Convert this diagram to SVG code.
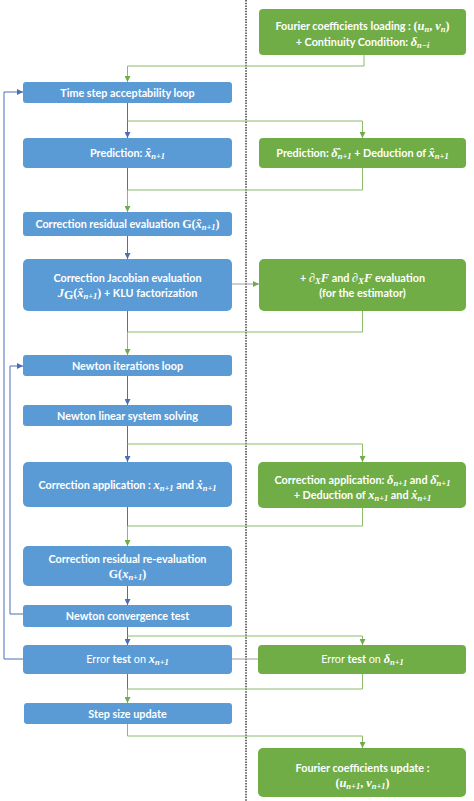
<svg xmlns="http://www.w3.org/2000/svg" width="474" height="801" viewBox="0 0 474 801">
<defs>
<style>
.bb{fill:#5B9BD5;}
.gb{fill:#70AD47;}
.t{font-family:Lato,"Open Sans","Liberation Sans",sans-serif;font-size:10.8px;font-weight:bold;fill:#fff;text-anchor:middle;}
.m{font-family:"Liberation Serif",serif;font-style:italic;font-weight:bold;font-size:12.5px;}
.s{font-size:8.5px;}
.r{font-family:"Liberation Serif",serif;font-style:normal;font-weight:bold;font-size:12px;}
.cb{fill:none;stroke:#4A6FB5;stroke-width:1;}
.cg{fill:none;stroke:#8CBB6A;stroke-width:1;}
.cx{fill:none;stroke:#9AA0A6;stroke-width:1;}
</style>
<marker id="ab" markerUnits="userSpaceOnUse" markerWidth="6" markerHeight="6" refX="6" refY="3" orient="auto"><path d="M0,0 L6,3 L0,6 z" fill="#4A6FB5"/></marker>
<marker id="ag" markerUnits="userSpaceOnUse" markerWidth="6" markerHeight="6" refX="6" refY="3" orient="auto"><path d="M0,0 L6,3 L0,6 z" fill="#70AD47"/></marker>
</defs>
<rect width="474" height="801" fill="#fff"/>
<line x1="246" y1="0" x2="246" y2="801" stroke="#222" stroke-width="1.3" stroke-dasharray="1.5 1.2"/>

<g id="connectors">
<path class="cg" d="M364,55 V66 H127.5 V82" marker-end="url(#ag)"/>
<path class="cb" d="M127.5,103 V138" marker-end="url(#ab)"/>
<path class="cg" d="M127.5,121 H362.5 V138" marker-end="url(#ag)"/>
<path class="cb" d="M127.5,168 V190"/>
<path class="cg" d="M362.5,168 V190 H127.5 V212" marker-end="url(#ag)"/>
<path class="cb" d="M127.5,236 V259" marker-end="url(#ab)"/>
<path class="cx" d="M232,284 H259" marker-end="url(#ag)"/>
<path class="cb" d="M127.5,311 V332"/>
<path class="cg" d="M362.5,311 V332 H127.5 V355" marker-end="url(#ag)"/>
<path class="cb" d="M127.5,376 V405" marker-end="url(#ab)"/>
<path class="cb" d="M127.5,426 V462" marker-end="url(#ab)"/>
<path class="cg" d="M127.5,444 H362.5 V462" marker-end="url(#ag)"/>
<path class="cb" d="M127.5,507 V526"/>
<path class="cg" d="M362.5,508 V526 H127.5 V546" marker-end="url(#ag)"/>
<path class="cb" d="M127.5,586 V605" marker-end="url(#ab)"/>
<path class="cb" d="M23,614 H10 V366 H23" marker-end="url(#ab)"/>
<path class="cb" d="M127.5,627 V645" marker-end="url(#ab)"/>
<path class="cg" d="M127.5,636 H362.5 V645" marker-end="url(#ag)"/>
<path class="cx" d="M232,659 H258"/>
<path class="cb" d="M23,659 H4 V92 H23" marker-end="url(#ab)"/>
<path class="cb" d="M127.5,674 V689"/>
<path class="cg" d="M362.5,674 V689 H127.5 V703" marker-end="url(#ag)"/>
<path class="cg" d="M127.5,724 V736 H362.5 V748" marker-end="url(#ag)"/>
</g>

<g id="fourier-load">
<rect class="gb" x="259" y="9" width="207" height="46" rx="4"/>
<text class="t" x="362.5" y="30">Fourier coefficients loading : <tspan class="r">(</tspan><tspan class="m">u</tspan><tspan class="m s" dy="2">n</tspan><tspan class="r" dy="-2">, </tspan><tspan class="m">v</tspan><tspan class="m s" dy="2">n</tspan><tspan class="r" dy="-2">)</tspan></text>
<text class="t" x="362.5" y="46">+ Continuity Condition: <tspan class="m">δ</tspan><tspan class="m s" dy="2">n−i</tspan></text>
</g>

<g id="time-step">
<rect class="bb" x="23" y="82" width="209" height="21" rx="3"/>
<text class="t" x="127.5" y="96.5">Time step acceptability loop</text>
</g>

<g id="prediction">
<rect class="bb" x="23" y="138" width="209" height="30" rx="4"/>
<text class="t" x="127.5" y="157">Prediction: <tspan class="m">x̂</tspan><tspan class="m s" dy="2">n+1</tspan></text>
</g>

<g id="prediction-est">
<rect class="gb" x="259" y="138" width="207" height="30" rx="4"/>
<text class="t" x="362.5" y="157">Prediction: <tspan class="m">δ̂</tspan><tspan class="m s" dy="2">n+1</tspan><tspan dy="-2"> + Deduction of </tspan><tspan class="m">x̂</tspan><tspan class="m s" dy="2">n+1</tspan></text>
</g>

<g id="residual">
<rect class="bb" x="23" y="212" width="209" height="24" rx="3"/>
<text class="t" x="127.5" y="228">Correction residual evaluation <tspan class="r">G(</tspan><tspan class="m">x̂</tspan><tspan class="m s" dy="2">n+1</tspan><tspan class="r" dy="-2">)</tspan></text>
</g>

<g id="jacobian">
<rect class="bb" x="23" y="259" width="209" height="52" rx="5"/>
<text class="t" x="127.5" y="282">Correction Jacobian evaluation</text>
<text class="t" x="127.5" y="297"><tspan class="m">J</tspan><tspan class="r s" dy="2">G</tspan><tspan class="r" dy="-2">(</tspan><tspan class="m">x̂</tspan><tspan class="m s" dy="2">n+1</tspan><tspan class="r" dy="-2">)</tspan> + KLU factorization</text>
</g>

<g id="jacobian-est">
<rect class="gb" x="259" y="259" width="207" height="52" rx="5"/>
<text class="t" x="362.5" y="282">+ <tspan class="m">∂</tspan><tspan class="m s" dy="2">X</tspan><tspan class="m" dy="-2">F</tspan> and <tspan class="m">∂</tspan><tspan class="m s" dy="2">X</tspan><tspan class="m" dy="-2">F</tspan> evaluation</text>
<text class="t" x="362.5" y="297">(for the estimator)</text>
</g>

<g id="newton-loop">
<rect class="bb" x="23" y="355" width="209" height="21" rx="3"/>
<text class="t" x="127.5" y="369.5">Newton iterations loop</text>
</g>

<g id="newton-linear">
<rect class="bb" x="23" y="405" width="209" height="21" rx="3"/>
<text class="t" x="127.5" y="419.5">Newton linear system solving</text>
</g>

<g id="correction-app">
<rect class="bb" x="23" y="462" width="209" height="45" rx="5"/>
<text class="t" x="127.5" y="489">Correction application : <tspan class="m">x</tspan><tspan class="m s" dy="2">n+1</tspan><tspan dy="-2"> and </tspan><tspan class="m">ẋ</tspan><tspan class="m s" dy="2">n+1</tspan></text>
</g>

<g id="correction-app-est">
<rect class="gb" x="258" y="462" width="208" height="46" rx="5"/>
<text class="t" x="362.5" y="484">Correction application: <tspan class="m">δ</tspan><tspan class="m s" dy="2">n+1</tspan><tspan dy="-2"> and </tspan><tspan class="m">δ̇</tspan><tspan class="m s" dy="2">n+1</tspan></text>
<text class="t" x="362.5" y="499">+ Deduction of <tspan class="m">x</tspan><tspan class="m s" dy="2">n+1</tspan><tspan dy="-2"> and </tspan><tspan class="m">ẋ</tspan><tspan class="m s" dy="2">n+1</tspan></text>
</g>

<g id="re-eval">
<rect class="bb" x="23" y="546" width="209" height="40" rx="5"/>
<text class="t" x="127.5" y="563">Correction residual re-evaluation</text>
<text class="t" x="127.5" y="578"><tspan class="r">G(</tspan><tspan class="m">x</tspan><tspan class="m s" dy="2">n+1</tspan><tspan class="r" dy="-2">)</tspan></text>
</g>

<g id="convergence">
<rect class="bb" x="23" y="605" width="209" height="22" rx="3"/>
<text class="t" x="127.5" y="620">Newton convergence test</text>
</g>

<g id="error-test">
<rect class="bb" x="23" y="645" width="209" height="29" rx="4"/>
<text class="t" x="127.5" y="663" style="font-weight:normal">Error <tspan style="font-weight:bold">test</tspan> on <tspan class="m">x</tspan><tspan class="m s" dy="2">n+1</tspan></text>
</g>

<g id="error-test-est">
<rect class="gb" x="258" y="645" width="208" height="29" rx="4"/>
<text class="t" x="362.5" y="663" style="font-weight:normal">Error <tspan style="font-weight:bold">test</tspan> on <tspan class="m">δ</tspan><tspan class="m s" dy="2">n+1</tspan></text>
</g>

<g id="step-size">
<rect class="bb" x="24" y="703" width="208" height="21" rx="3"/>
<text class="t" x="127.5" y="718">Step size update</text>
</g>

<g id="fourier-update">
<rect class="gb" x="258" y="748" width="208" height="49" rx="5"/>
<text class="t" x="362.5" y="772">Fourier coefficients update :</text>
<text class="t" x="362.5" y="787"><tspan class="r">(</tspan><tspan class="m">u</tspan><tspan class="m s" dy="2">n+1</tspan><tspan class="r" dy="-2">, </tspan><tspan class="m">v</tspan><tspan class="m s" dy="2">n+1</tspan><tspan class="r" dy="-2">)</tspan></text>
</g>
</svg>
